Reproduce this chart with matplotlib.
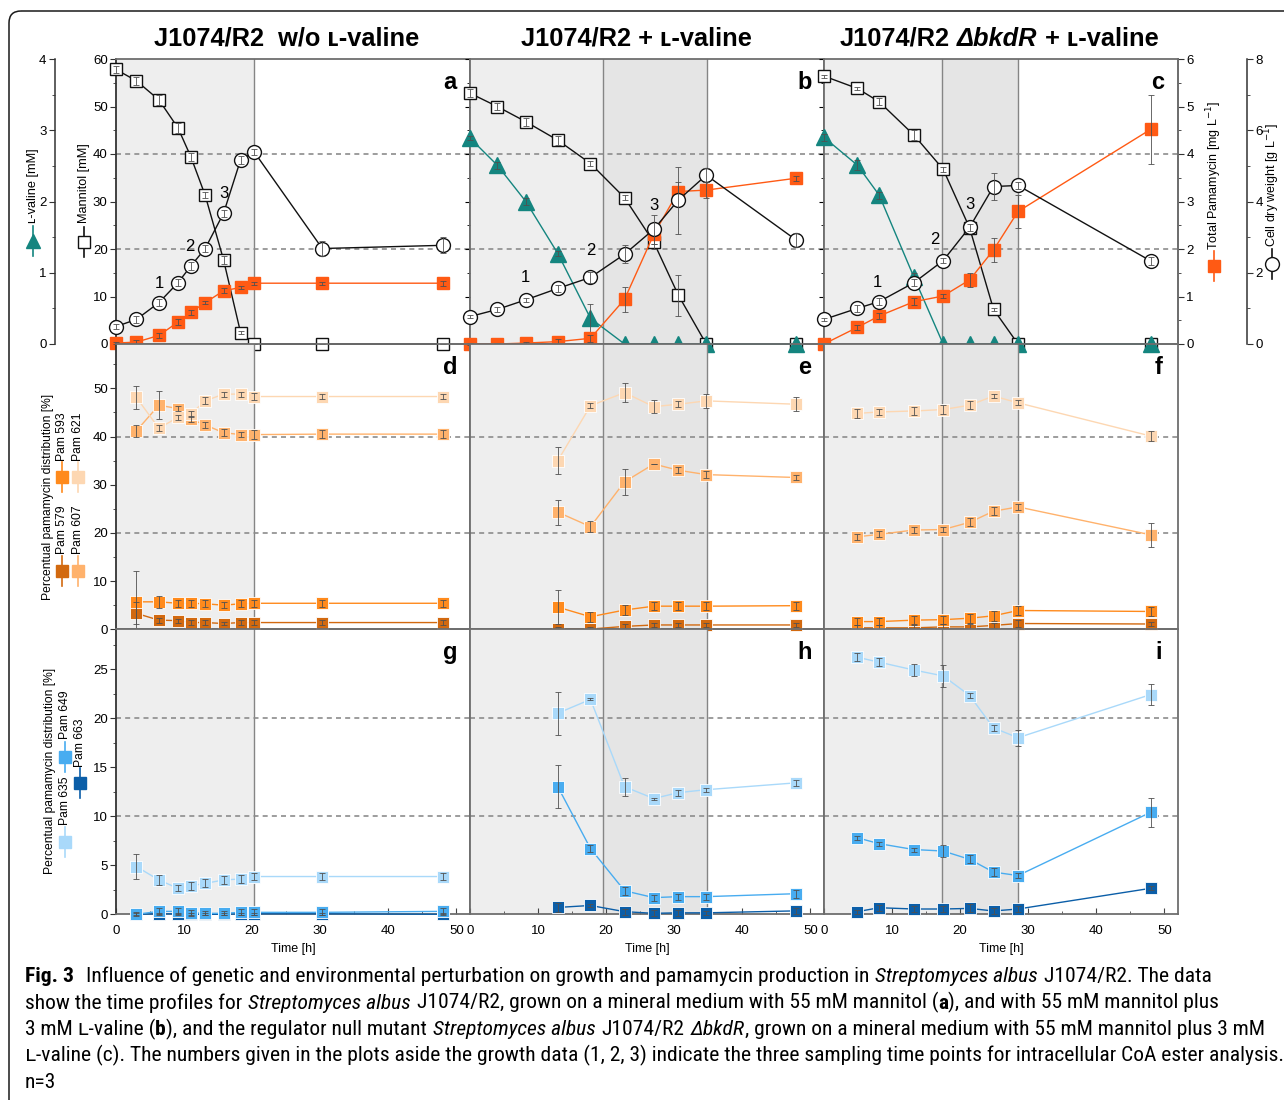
"""Time profiles of growth and pamamycin production in S. albus J1074/R2."""

import matplotlib

matplotlib.use("Agg")
import matplotlib.pyplot as plt
from matplotlib import font_manager
from matplotlib.patches import FancyBboxPatch
from matplotlib.ticker import MultipleLocator

W, H, DPI = 1284, 1100, 100

# ---- time points [h] ----
t_a = [0, 3, 6.3, 9.1, 11, 13.1, 15.8, 18.3, 20.3, 30.3, 48]
t_b = [0, 4.0, 8.2, 12.9, 17.7, 22.7, 27.0, 30.6, 34.7, 47.9]
t_c = [0, 4.9, 8.1, 13.2, 17.5, 21.4, 24.9, 28.5, 48]

# ---- growth panels (a, b, c) ----
mannitol_a = [57.8, 55.4, 51.4, 45.5, 39.4, 31.3, 17.7, 2.4, 0, 0, 0]
mannitol_a_err = [0.8, 0.9, 1.0, 1.0, 0.8, 0.6, 0.9, 0.3, 0, 0, 0]
cdw_a = [0.49, 0.69, 1.16, 1.72, 2.19, 2.68, 3.67, 5.17, 5.39, 2.68, 2.77]
cdw_a_err = [0.08, 0.1, 0.1, 0.1, 0.12, 0.1, 0.1, 0.12, 0.08, 0.2, 0.22]
pam_a = [0.02, 0.04, 0.18, 0.46, 0.67, 0.87, 1.12, 1.19, 1.28, 1.28, 1.28]
pam_a_err = [0.02, 0.05, 0.05, 0.06, 0.05, 0.03, 0.05, 0.03, 0.03, 0.03, 0.05]

mannitol_b = [52.8, 50.0, 46.8, 42.9, 38.0, 30.8, 21.4, 10.3, 0, 0]
mannitol_b_err = [0.8, 0.8, 0.8, 0.9, 0.5, 0.5, 1.5, 4.3, 0, 0]
cdw_b = [0.77, 0.97, 1.24, 1.56, 1.87, 2.52, 3.22, 4.04, 4.74, 2.92]
cdw_b_err = [0.05, 0.08, 0.05, 0.1, 0.15, 0.25, 0.4, 0.94, 0.2, 0.2]
valine_b = [2.89, 2.51, 2.0, 1.27, 0.36, 0, 0, 0, 0, 0]
valine_b_err = [0.03, 0.05, 0.05, 0.04, 0.2, 0, 0, 0, 0, 0]
pam_b = [0.0, 0.0, 0.02, 0.05, 0.12, 0.94, 2.31, 3.21, 3.24, 3.49]
pam_b_err = [0.03, 0.03, 0.03, 0.05, 0.08, 0.26, 0.2, 0.2, 0.17, 0.05]

mannitol_c = [56.4, 53.8, 51.0, 44.0, 36.8, 24.4, 7.3, 0, 0]
mannitol_c_err = [0.3, 0.3, 0.7, 1.0, 0.5, 0.8, 0.3, 0, 0]
cdw_c = [0.69, 1.0, 1.19, 1.72, 2.34, 3.28, 4.42, 4.45, 2.33]
cdw_c_err = [0.04, 0.1, 0.1, 0.1, 0.08, 0.1, 0.39, 0.1, 0.1]
valine_c = [2.9, 2.51, 2.09, 0.94, 0, 0, 0, 0, 0]
valine_c_err = [0.05, 0.07, 0.05, 0.06, 0, 0, 0, 0, 0]
pam_c = [0.0, 0.35, 0.59, 0.89, 1.01, 1.35, 1.98, 2.79, 4.52]
pam_c_err = [0.0, 0.06, 0.06, 0.07, 0.05, 0.15, 0.26, 0.35, 0.72]

# sampling points for CoA ester analysis (index into the time arrays)
sampling_a = [2, 4, 6]
sampling_b = [2, 4, 6]
sampling_c = [2, 4, 5]

# ---- pamamycin distribution [%], panels d, e, f ----
d_621 = [48.1, 41.7, 44.0, 44.7, 47.4, 48.8, 48.8, 48.3, 48.3, 48.3]
d_607 = [41.2, 46.5, 45.8, 43.6, 42.4, 40.8, 40.4, 40.4, 40.5, 40.5]
d_593 = [5.7, 5.7, 5.4, 5.4, 5.3, 5.0, 5.3, 5.4, 5.4, 5.4]
d_579 = [3.3, 1.9, 1.8, 1.4, 1.4, 1.2, 1.4, 1.4, 1.4, 1.4]
d_621_err = [2.4, 0.6, 0.5, 0.6, 0.7, 0.5, 0.5, 0.8, 0.6, 0.6]
d_607_err = [1.2, 2.9, 0.5, 0.6, 0.6, 0.7, 0.6, 0.9, 0.8, 0.8]
d_593_err = [6.5, 1.2, 0.7, 0.7, 0.7, 0.6, 0.7, 0.7, 0.7, 0.7]
d_579_err = [2.3, 0.5, 0.4, 0.5, 0.5, 0.3, 0.5, 0.5, 0.5, 0.5]

e_621 = [35.0, 46.4, 49.1, 46.2, 46.7, 47.4, 46.7]
e_607 = [24.3, 21.3, 30.6, 34.3, 33.0, 32.1, 31.5]
e_593 = [4.6, 2.6, 4.0, 4.8, 4.8, 4.8, 4.9]
e_579 = [0.1, 0.05, 0.6, 0.9, 0.9, 0.9, 0.9]
e_621_err = [2.8, 0.5, 2.0, 1.3, 0.6, 1.4, 1.5]
e_607_err = [2.6, 1.1, 2.7, 0.1, 0.6, 0.7, 0.5]
e_593_err = [3.5, 1.0, 1.0, 0.8, 0.8, 0.8, 0.8]
e_579_err = [0.3, 0.4, 0.4, 0.5, 0.5, 0.5, 0.4]

f_621 = [44.8, 45.1, 45.3, 45.6, 46.5, 48.4, 47.0, 40.1]
f_607 = [19.2, 19.7, 20.6, 20.7, 22.2, 24.5, 25.4, 19.6]
f_593 = [1.6, 1.6, 1.9, 2.0, 2.3, 2.8, 3.9, 3.7]
f_579 = [0.3, 0.3, 0.3, 0.5, 0.5, 0.8, 1.2, 1.1]
f_621_err = [1.0, 0.7, 0.8, 1.0, 0.8, 0.5, 0.5, 1.0]
f_607_err = [0.6, 0.6, 0.6, 0.6, 0.8, 0.8, 0.6, 2.5]
f_593_err = [0.8, 0.8, 0.8, 0.8, 0.9, 1.0, 1.0, 1.0]
f_579_err = [0.5, 0.5, 0.5, 0.5, 0.5, 0.5, 0.8, 0.5]

# ---- pamamycin distribution [%], panels g, h, i ----
g_635 = [4.86, 3.5, 2.65, 2.9, 3.15, 3.5, 3.6, 3.85, 3.85, 3.85]
g_649 = [0.0, 0.3, 0.3, 0.15, 0.1, 0.1, 0.2, 0.2, 0.2, 0.3]
g_663 = [0.0, 0.05, 0.05, 0.0, 0.0, 0.0, 0.05, 0.05, 0.05, 0.0]
g_635_err = [1.3, 0.5, 0.3, 0.4, 0.4, 0.4, 0.4, 0.4, 0.4, 0.4]
g_649_err = [0.1, 0.3, 0.3, 0.3, 0.2, 0.2, 0.3, 0.3, 0.3, 0.3]
g_663_err = [0.2, 0.1, 0.1, 0.1, 0.1, 0.1, 0.1, 0.1, 0.1, 0.1]

h_635 = [20.5, 21.9, 13.0, 11.8, 12.4, 12.7, 13.4]
h_649 = [13.0, 6.7, 2.4, 1.7, 1.8, 1.8, 2.1]
h_663 = [0.7, 0.9, 0.27, 0.1, 0.15, 0.15, 0.35]
h_635_err = [2.2, 0.1, 0.9, 0.1, 0.3, 0.2, 0.3]
h_649_err = [2.2, 0.4, 0.4, 0.3, 0.3, 0.3, 0.4]
h_663_err = [0.5, 0.2, 0.3, 0.3, 0.3, 0.2, 0.3]

i_635 = [26.2, 25.7, 24.9, 24.3, 22.3, 19.0, 18.0, 22.4]
i_649 = [7.8, 7.2, 6.6, 6.45, 5.6, 4.3, 3.95, 10.4]
i_663 = [0.27, 0.67, 0.54, 0.54, 0.6, 0.34, 0.54, 2.65]
i_635_err = [0.4, 0.4, 0.6, 1.1, 0.3, 0.3, 0.8, 1.1]
i_649_err = [0.2, 0.2, 0.2, 0.6, 0.4, 0.4, 0.3, 1.5]
i_663_err = [0.2, 0.3, 0.3, 0.3, 0.4, 0.3, 0.3, 0.2]

# growth phases (shaded) per cultivation [h]
phase1_ends = [20.3, 19.6, 17.4]
phase2_ends = [None, 34.8, 28.5]

letters = [["a", "b", "c"], ["d", "e", "f"], ["g", "h", "i"]]

C_PAM = "#ff5a14"
C_VAL = "#14857f"
C_579 = "#d2690f"
C_593 = "#ff8a1c"
C_607 = "#ffb26c"
C_621 = "#fdd7b2"
C_635 = "#a9d9fa"
C_649 = "#48acf0"
C_663 = "#0b5ea8"
FRAME = "#6e6e6e"
ERR = "#505050"

plt.rcParams["font.family"] = ["Liberation Sans", "DejaVu Sans"]
plt.rcParams["axes.linewidth"] = 1.1

fig = plt.figure(figsize=(W / DPI, H / DPI), dpi=DPI)
renderer = fig.canvas.get_renderer()

# overlay in pixel coordinates for frame, labels and caption
ov = fig.add_axes([0, 0, 1, 1])
ov.set_xlim(0, W)
ov.set_ylim(H, 0)
ov.axis("off")
ov.add_patch(
    FancyBboxPatch((9, 11), 1320, 1130, boxstyle="round,pad=0,rounding_size=12",
                   fc="none", ec="#1a1a1a", lw=1.1)
)

PANEL_X = [116, 470, 824]
PANEL_W = 354
ROWS = [(59, 344), (344, 629.3), (629.3, 914.3)]
YLIMS = [(0, 60), (0, 59.2), (0, 29.05)]
GRID = [(20, 40), (20, 40), (10, 20)]


def new_axes(col, row):
    y0, y1 = ROWS[row]
    ax = fig.add_axes([PANEL_X[col] / W, 1 - y1 / H, PANEL_W / W, (y1 - y0) / H])
    ax.set_xlim(0, 52)
    ax.set_ylim(*YLIMS[row])
    ax.patch.set_alpha(0)
    for s in ax.spines.values():
        s.set_color(FRAME)
        s.set_linewidth(1.3)
    ax.axvspan(0, phase1_ends[col], color="#eeeeee", lw=0, zorder=0)
    ax.axvline(phase1_ends[col], color="#858585", lw=1.0, zorder=1)
    if phase2_ends[col] is not None:
        ax.axvspan(phase1_ends[col], phase2_ends[col], color="#e5e5e5", lw=0, zorder=0)
        ax.axvline(phase2_ends[col], color="#858585", lw=1.0, zorder=1)
    for g in GRID[row]:
        ax.axhline(g, color="#8c8c8c", lw=1.2, ls=(0, (3, 2.5)), zorder=1)
    ax.tick_params(axis="x", which="both", direction="in", labelsize=9.5,
                   color="#444444", pad=8)
    ax.xaxis.set_major_locator(MultipleLocator(10))
    ax.xaxis.set_minor_locator(MultipleLocator(5))
    ax.tick_params(axis="x", which="major", length=4)
    ax.tick_params(axis="x", which="minor", length=2.5)
    if row < 2:
        ax.tick_params(axis="x", which="both", bottom=False, labelbottom=False)
    else:
        ax.set_xlabel("Time [h]", fontsize=9, labelpad=4)
    if col == 0:
        ax.tick_params(axis="y", which="both", direction="out", labelsize=9.5,
                       color="#333333", pad=2)
        ax.tick_params(axis="y", which="major", length=4)
        ax.tick_params(axis="y", which="minor", length=2.5)
        ax.spines["left"].set_color("#333333")
    else:
        ax.tick_params(axis="y", which="both", left=False, labelleft=False)
    ax.text(0.944, 0.918, letters[row][col], transform=ax.transAxes, ha="center",
            va="center", fontsize=17, fontweight="bold", zorder=10)
    return ax


def twin(ax, ylim):
    tw = ax.twinx()
    tw.set_ylim(*ylim)
    tw.patch.set_alpha(0)
    for s in tw.spines.values():
        s.set_visible(False)
    tw.tick_params(axis="y", which="both", right=False, labelright=False)
    return tw


def series(ax, x, y, err, marker, color, ms, mfc=None, mec=None, mew=1.0, z=3):
    ax.plot(x, y, "-", color=color, lw=1.0, zorder=z, clip_on=False)
    ax.plot(x, y, ls="none", marker=marker, ms=ms, mfc=mfc or color,
            mec=mec or color, mew=mew, zorder=z + 0.1, clip_on=False)
    ax.errorbar(x, y, yerr=err, fmt="none", ecolor=ERR, elinewidth=0.6,
                capsize=2, capthick=0.6, zorder=z + 0.2, clip_on=False)


# ---- top row ----
top_data = [
    (t_a, mannitol_a, mannitol_a_err, cdw_a, cdw_a_err, None, None, pam_a, pam_a_err, sampling_a),
    (t_b, mannitol_b, mannitol_b_err, cdw_b, cdw_b_err, valine_b, valine_b_err, pam_b, pam_b_err, sampling_b),
    (t_c, mannitol_c, mannitol_c_err, cdw_c, cdw_c_err, valine_c, valine_c_err, pam_c, pam_c_err, sampling_c),
]
label_offsets = [
    [(0, 14), (-1, 14), (0, 14)],
    [(0, 16), (0, 19), (0, 17)],
    [(-1, 14), (-6, 15), (0, 16)],
]
for col, (t, man, man_e, cdw, cdw_e, val, val_e, pam, pam_e, samp) in enumerate(top_data):
    ax = new_axes(col, 0)
    ax.yaxis.set_major_locator(MultipleLocator(10))
    ax.yaxis.set_minor_locator(MultipleLocator(5))
    ax_v = twin(ax, (0, 4))
    ax_p = twin(ax, (0, 6))
    ax_c = twin(ax, (0, 8))
    series(ax, t, man, man_e, "s", "#111111", 8, mfc="white", mec="#111111", mew=1.0)
    if val is not None:
        series(ax_v, t, val, val_e, "^", C_VAL, 11, mec=C_VAL)
    series(ax_p, t, pam, pam_e, "s", C_PAM, 8.5, mec=C_PAM)
    series(ax_c, t, cdw, cdw_e, "o", "#111111", 10, mfc="white", mec="#111111", mew=1.0)
    for k, (idx, off) in enumerate(zip(samp, label_offsets[col])):
        ax_c.annotate(str(k + 1), (t[idx], cdw[idx]), xytext=off,
                      textcoords="offset points", ha="center", va="center",
                      fontsize=12, zorder=12)
    if col == 0:
        ax_v.spines["left"].set_visible(True)
        ax_v.spines["left"].set_position(("outward", 44))
        ax_v.spines["left"].set_color("#333333")
        ax_v.spines["left"].set_linewidth(1.1)
        ax_v.yaxis.set_ticks_position("left")
        ax_v.tick_params(axis="y", which="both", left=True, labelleft=True,
                         direction="out", labelsize=9.5, color="#333333", pad=2)
        ax_v.tick_params(axis="y", which="major", length=4)
        ax_v.tick_params(axis="y", which="minor", length=2.5)
        ax_v.yaxis.set_major_locator(MultipleLocator(1))
        ax_v.yaxis.set_minor_locator(MultipleLocator(0.5))
    if col == 2:
        for tw, outward, major, minor in ((ax_p, 0, 1, 0.5), (ax_c, 50, 2, 1)):
            tw.spines["right"].set_visible(True)
            tw.spines["right"].set_position(("outward", outward))
            tw.spines["right"].set_color(FRAME if outward == 0 else "#333333")
            tw.spines["right"].set_linewidth(1.3 if outward == 0 else 1.1)
            tw.tick_params(axis="y", which="both", right=True, labelright=True,
                           direction="out", labelsize=9.5, color="#333333", pad=2)
            tw.tick_params(axis="y", which="major", length=4)
            tw.tick_params(axis="y", which="minor", length=2.5)
            tw.yaxis.set_major_locator(MultipleLocator(major))
            tw.yaxis.set_minor_locator(MultipleLocator(minor))

# ---- middle row ----
mid_data = [
    (t_a[1:], [(d_579, d_579_err), (d_593, d_593_err), (d_607, d_607_err), (d_621, d_621_err)]),
    (t_b[3:], [(e_579, e_579_err), (e_593, e_593_err), (e_607, e_607_err), (e_621, e_621_err)]),
    (t_c[1:], [(f_579, f_579_err), (f_593, f_593_err), (f_607, f_607_err), (f_621, f_621_err)]),
]
mid_colors = [C_579, C_593, C_607, C_621]
for col, (t, groups) in enumerate(mid_data):
    ax = new_axes(col, 1)
    ax.yaxis.set_minor_locator(MultipleLocator(5))
    ax.set_yticks([0, 10, 20, 30, 40, 50])
    for (vals, errs), color in zip(groups, mid_colors):
        series(ax, t, vals, errs, "s", color, 9, mec="white", mew=0.6)

# ---- bottom row ----
bot_data = [
    (t_a[1:], [(g_663, g_663_err), (g_649, g_649_err), (g_635, g_635_err)]),
    (t_b[3:], [(h_663, h_663_err), (h_649, h_649_err), (h_635, h_635_err)]),
    (t_c[1:], [(i_663, i_663_err), (i_649, i_649_err), (i_635, i_635_err)]),
]
bot_colors = [C_663, C_649, C_635]
for col, (t, groups) in enumerate(bot_data):
    ax = new_axes(col, 2)
    ax.yaxis.set_major_locator(MultipleLocator(5))
    ax.yaxis.set_minor_locator(MultipleLocator(2.5))
    for (vals, errs), color in zip(groups, bot_colors):
        series(ax, t, vals, errs, "s", color, 9, mec="white", mew=0.6)

# ---- rich text helper (pixel coordinates, one baseline) ----
_probe_a = fig.text(0, 0, "a a", fontsize=10)
_probe_b = fig.text(0, 0, "aa", fontsize=10)
SPACE_PER_PT = (_probe_a.get_window_extent(renderer).width
                - _probe_b.get_window_extent(renderer).width) / 10
_probe_a.remove()
_probe_b.remove()


def rich(x, y, parts, size, ha="left"):
    items = []
    for s, style in parts:
        lead = len(s) - len(s.lstrip(" "))
        trail = len(s) - len(s.rstrip(" "))
        core = s.strip(" ")
        t = fig.text(0, 0, core, fontsize=size, va="baseline", **style)
        w = t.get_window_extent(renderer).width if core else 0
        items.append((t, w, lead * SPACE_PER_PT * size, trail * SPACE_PER_PT * size))
    total = sum(w + l + r for _, w, l, r in items)
    x0 = x - total / 2 if ha == "center" else x
    for t, w, l, r in items:
        x0 += l
        t.set_position((x0 / W, 1 - y / H))
        x0 += w + r
    return [it[0] for it in items], total


B = {"fontweight": "bold"}
BI = {"fontweight": "bold", "fontstyle": "italic"}
rich(287, 46, [("J1074/R2  w/o ʟ-valine", B)], 18.3, ha="center")
rich(636, 46, [("J1074/R2 + ʟ-valine", B)], 18.3, ha="center")
rich(999, 46, [("J1074/R2 ", B), ("ΔbkdR", BI), (" + ʟ-valine", B)], 18.3, ha="center")

# ---- axis labels with legend keys ----


def key(x, y, marker, color, ms, mfc=None):
    ov.plot([x, x], [y - 15, y + 15], color=color, lw=1.2)
    ov.plot([x], [y], marker=marker, ms=ms, color=color, mfc=mfc or color, mec=color, mew=1.0)


def vlabel(x, y, s, size=8.7):
    ov.text(x, y, s, rotation=90, ha="center", va="center", fontsize=size)


vlabel(33, 186, "ʟ-valine [mM]", 9.2)
key(33, 241, "^", C_VAL, 10)
vlabel(84, 183, "Mannitol [mM]", 9.2)
key(84, 242, "s", "#111111", 9, mfc="white")
vlabel(1214, 175, "Total Pamamycin [mg L$^{-1}$]", 9)
key(1214, 266, "s", C_PAM, 9)
vlabel(1272, 185, "Cell dry weight [g L$^{-1}$]", 9)
key(1272, 264, "o", "#111111", 10, mfc="white")

vlabel(48, 497, "Percentual pamamycin distribution [%]")
vlabel(62, 530, "Pam 579")
key(62, 571, "s", C_579, 9)
vlabel(62, 437, "Pam 593")
key(62, 477, "s", C_593, 9)
vlabel(78, 530, "Pam 607")
key(78, 571, "s", C_607, 9)
vlabel(78, 437, "Pam 621")
key(78, 477, "s", C_621, 9)

vlabel(50, 771, "Percentual pamamycin distribution [%]")
vlabel(65, 801, "Pam 635")
key(65, 842, "s", C_635, 9)
vlabel(65, 715, "Pam 649")
key(65, 757, "s", C_649, 9)
vlabel(80, 743, "Pam 663")
key(80, 783, "s", C_663, 9)

# ---- caption ----
names = {f.name for f in font_manager.fontManager.ttflist}
cap_family = next((f for f in ["Liberation Sans Narrow", "Roboto Condensed",
                               "Open Sans Condensed", "Liberation Sans"] if f in names),
                  "DejaVu Sans")
CF = [cap_family, "DejaVu Sans"]
CN = {"family": CF}
CI = {"family": CF, "fontstyle": "italic"}
CB = {"family": CF, "fontweight": "bold"}
caption = [
    [("Fig. 3", CB),
     ("  Influence of genetic and environmental perturbation on growth and pamamycin production in ", CN),
     ("Streptomyces albus", CI), (" J1074/R2. The data", CN)],
    [("show the time profiles for ", CN), ("Streptomyces albus", CI),
     (" J1074/R2, grown on a mineral medium with 55 mM mannitol (", CN),
     ("a", CB), ("), and with 55 mM mannitol plus", CN)],
    [("3 mM ʟ-valine (", CN), ("b", CB), ("), and the regulator null mutant ", CN),
     ("Streptomyces albus", CI), (" J1074/R2 ", CN), ("ΔbkdR", CI),
     (", grown on a mineral medium with 55 mM mannitol plus 3 mM", CN)],
    [("ʟ-valine (c). The numbers given in the plots aside the growth data (1, 2, 3) indicate the three "
      "sampling time points for intracellular CoA ester analysis.", CN)],
    [("n=3", CN)],
]
# original line widths [px]; pick the font size at which every line fits its width
line_widths = [1195, 1197, 1242, 1250]
sizes = []
for line, target in zip(caption, line_widths):
    texts, total = rich(0, 0, line, 10)
    for t in texts:
        t.remove()
    sizes.append(10 * target / total)
cap_size = min(sizes)
for k, line in enumerate(caption):
    rich(25, 982 + 26.6 * k, line, cap_size)

fig.savefig("out.png", dpi=DPI)
